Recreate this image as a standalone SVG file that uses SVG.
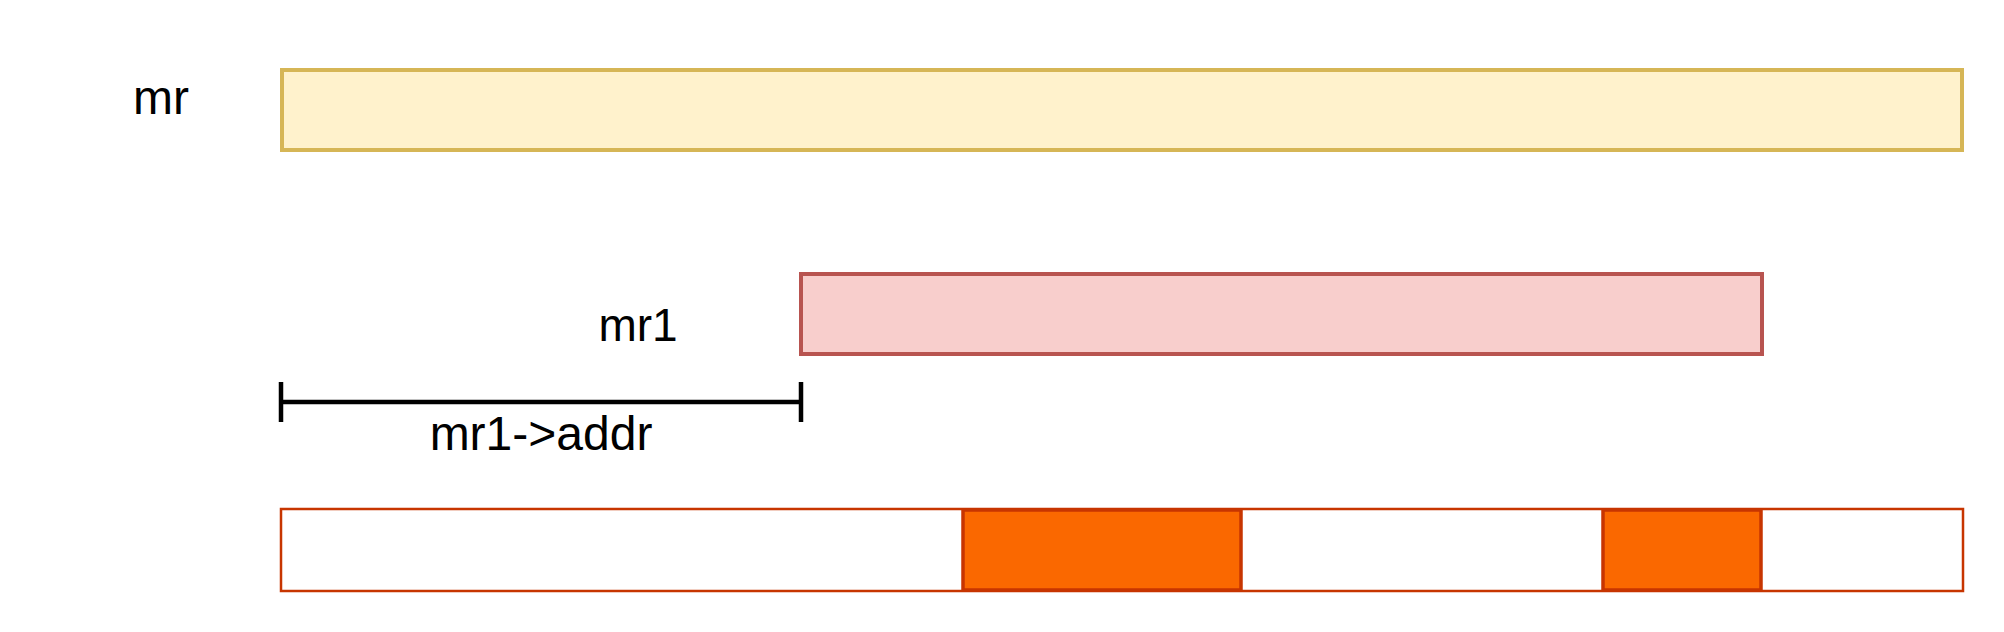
<svg xmlns="http://www.w3.org/2000/svg" width="2004" height="632" viewBox="0 0 2004 632">
<style>
.lbl{font-family:"Liberation Sans",Arial,Helvetica,sans-serif;font-size:46px;fill:#000;text-anchor:middle}
.big{font-size:48px}
.mr{fill:#FFF2CC;stroke:#D6B656;stroke-width:4}
.mr1{fill:#F8CECC;stroke:#B85450;stroke-width:4}
.bar{fill:#FFFFFF;stroke:#C73500;stroke-width:2.5}
.blk{fill:#FA6800;stroke:#C73500;stroke-width:3.5}
.dim{stroke:#000;stroke-width:4.5;fill:none}
</style>
<rect width="2004" height="632" fill="#FFFFFF"/>
<g id="label-mr"><text class="lbl big" x="161" y="114">mr</text></g>
<g id="mr"><rect class="mr" x="282" y="70" width="1680" height="80"/></g>
<g id="label-mr1"><text class="lbl" x="638" y="341">mr1</text></g>
<g id="mr1"><rect class="mr1" x="801" y="274" width="961" height="80"/></g>
<g id="connectors">
<path class="dim" d="M281 402 H801 M281 382 V422 M801 382 V422"/>
</g>
<g id="label-addr"><text class="lbl big" x="541" y="450">mr1-&gt;addr</text></g>
<g id="bar"><rect class="bar" x="281" y="509" width="1682" height="82"/></g>
<g id="block1"><rect class="blk" x="963" y="510" width="278" height="80"/></g>
<g id="block2"><rect class="blk" x="1603" y="510" width="158" height="80"/></g>
</svg>
